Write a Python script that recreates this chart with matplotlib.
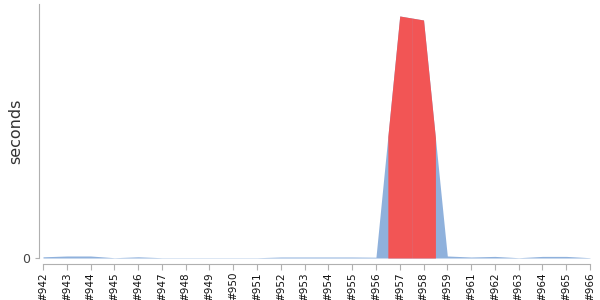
import numpy as np
import matplotlib
matplotlib.use("Agg")
import matplotlib.pyplot as plt

builds = ["#942", "#943", "#944", "#945", "#946", "#947", "#948", "#949", "#950",
          "#951", "#952", "#953", "#954", "#955", "#956", "#957", "#958", "#959",
          "#961", "#962", "#963", "#964", "#965", "#966"]
durations = [1.2, 2.0, 2.0, 0.3, 1.2, 0.3, 0.3, 0.3, 0.3,
             0.3, 1.0, 1.0, 1.0, 1.0, 0.8, 242, 238, 2.0,
             1.0, 1.6, 0.3, 1.6, 1.6, 0.3]
failed = ["#957", "#958"]
ymax = 254

blue = "#8fb1dc"
red = "#f25555"
gray = "#b0b0b0"

fig = plt.figure(figsize=(6, 3), dpi=100)
ax = fig.add_axes([43/600, 42/300, 547/600, 254/300])

for s in ["top", "right"]:
    ax.spines[s].set_visible(False)
ax.spines["left"].set_position(("outward", 3))
ax.spines["bottom"].set_position(("outward", 4))
ax.spines["left"].set_color(gray)
ax.spines["bottom"].set_color(gray)

x = np.arange(len(builds))
y = np.array(durations, dtype=float)
ax.fill_between(x, 0, y, color=blue, linewidth=0)

for b in failed:
    i = builds.index(b)
    x0, x1 = max(i - 0.5, 0), min(i + 0.5, len(builds) - 1)
    xs = [x0] + [v for v in x if x0 < v < x1] + [x1]
    ys = np.interp(xs, x, y)
    ax.fill_between(xs, 0, ys, color=red, linewidth=0)

ax.set_xlim(0, len(builds) - 1)
ax.set_ylim(0, ymax)
ax.tick_params(axis="x", colors=gray, length=4, pad=2)
ax.tick_params(axis="y", colors=gray, length=3)
ax.set_xticks(x)
ax.set_xticklabels(builds, rotation=90, fontsize=7.5, color="#111111")
ax.set_yticks([0])
ax.set_yticklabels(["0"], fontsize=9, color="#444444")
ax.set_ylabel("seconds", fontsize=11.5, color="#333333", labelpad=-1)

fig.savefig("out.png", dpi=100)
